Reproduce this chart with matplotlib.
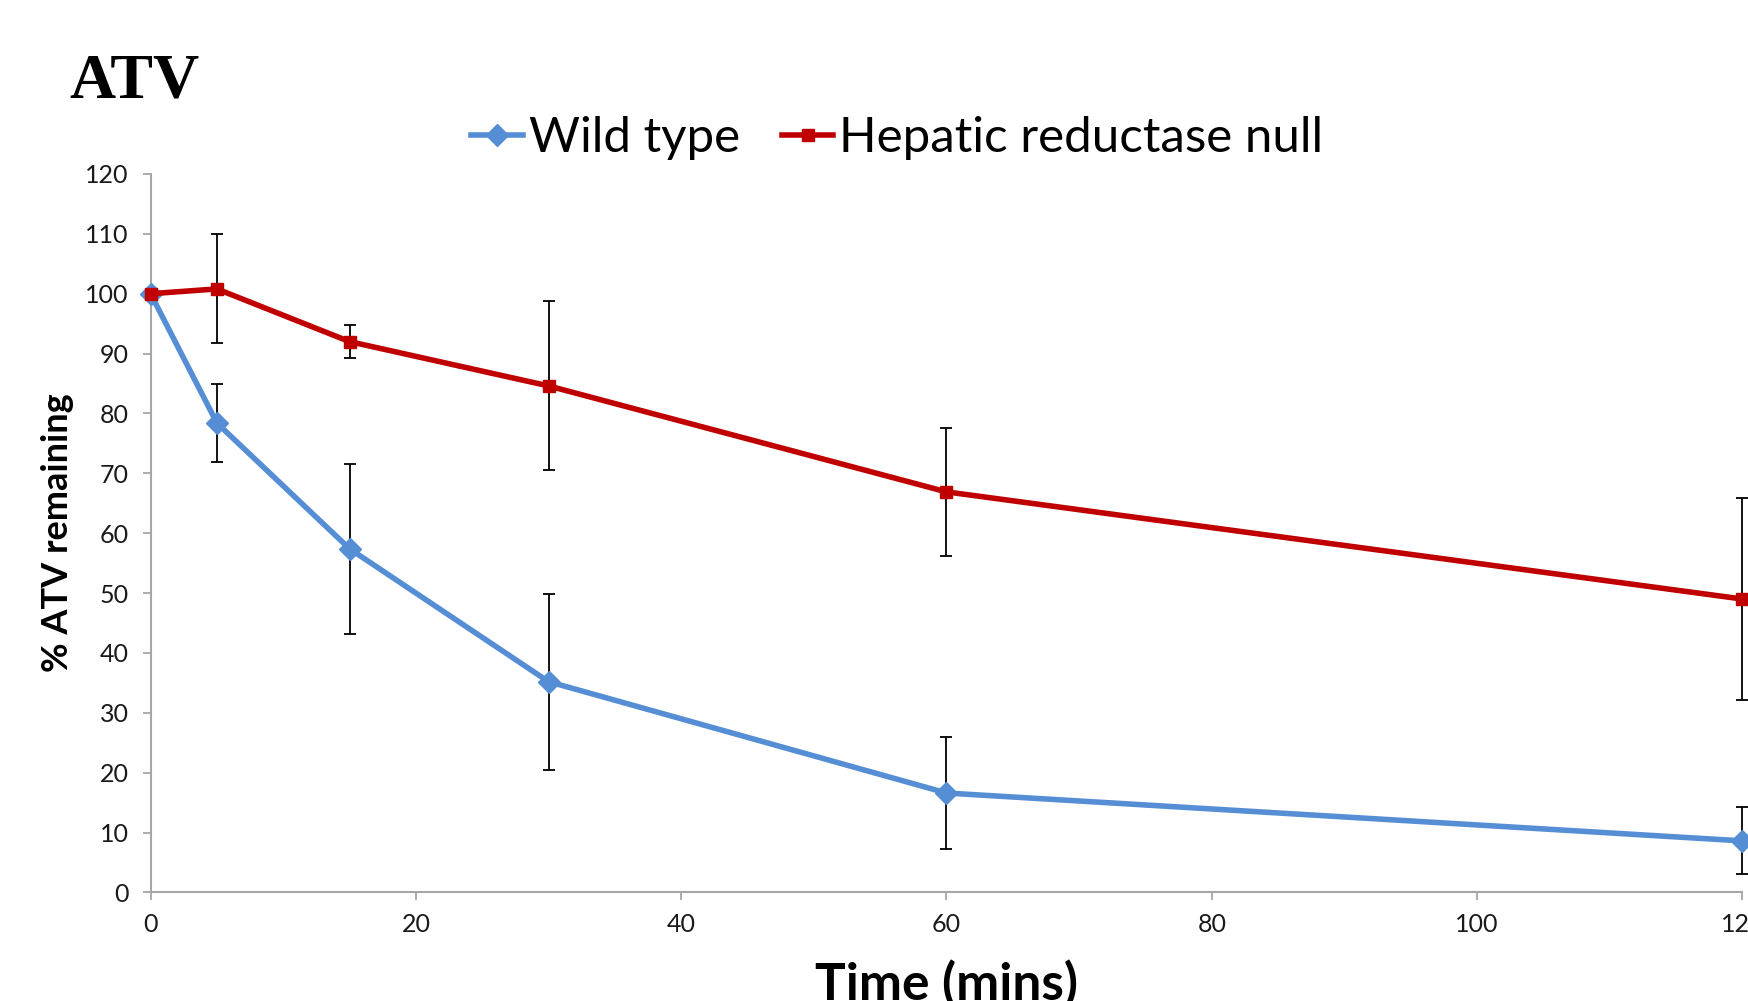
import matplotlib.pyplot as plt

# time points (mins)
time_points = [0, 5, 15, 30, 60, 120]

# % ATV remaining, mean and error
wild_type = [100, 78.4, 57.4, 35.2, 16.6, 8.6]
wild_type_err = [0, 6.5, 14.2, 14.7, 9.3, 5.6]
reductase_null = [100, 100.8, 92.0, 84.6, 66.9, 49.0]
reductase_null_err = [0, 9.1, 2.7, 14.1, 10.7, 16.8]

x_ticks = [0, 20, 40, 60, 80, 100, 120]
y_ticks = list(range(0, 121, 10))

BLUE = "#558ED5"
RED = "#C00000"
GRAY = "#A6A6A6"


def draw_series(ax, y, err, color, marker, msize, label):
    ax.errorbar(time_points, y, yerr=err, fmt="none", ecolor="black",
                elinewidth=1.3, capsize=4.3, capthick=1.3, zorder=2, clip_on=False)
    ax.plot(time_points, y, color=color, lw=4, marker=marker, markersize=msize,
            label=label, zorder=3, clip_on=False)


def create_plot():
    fig = plt.figure(figsize=(17.49, 10.01), dpi=100)
    ax = fig.add_axes([0.0861, 0.1085, 0.9101, 0.7177])

    draw_series(ax, wild_type, wild_type_err, BLUE, "D", 11, "Wild type")
    draw_series(ax, reductase_null, reductase_null_err, RED, "s", 9, "Hepatic reductase null")

    ax.set_xlim(0, 120)
    ax.set_ylim(0, 120)
    ax.set_xticks(x_ticks)
    ax.set_yticks(y_ticks)

    for side in ("top", "right"):
        ax.spines[side].set_visible(False)
    for side in ("left", "bottom"):
        ax.spines[side].set_color(GRAY)
        ax.spines[side].set_linewidth(1.5)

    ax.tick_params(axis="both", direction="out", length=5.8, width=1.3, color=GRAY,
                   labelsize=18, labelcolor="#1a1a1a")
    ax.tick_params(axis="y", pad=10)
    ax.tick_params(axis="x", pad=9)
    for lbl in ax.get_xticklabels() + ax.get_yticklabels():
        lbl.set_family("Lato")

    ax.set_ylabel("% ATV remaining", family="Lato", fontweight="bold", fontsize=26,
                  labelpad=8)
    ax.set_xlabel("Time (mins)", family="Lato", fontweight="bold", fontsize=37,
                  labelpad=17)

    fig.text(0.0395, 0.947, "ATV", family="Liberation Serif", fontweight="bold",
             fontsize=46, va="top", ha="left")

    fig.legend(loc="center", bbox_to_anchor=(0.513, 0.862), ncol=2, frameon=False,
               prop={"family": "Lato", "size": 35.5}, handlelength=1.05,
               handletextpad=0.12, columnspacing=0.85)

    fig.savefig("out.png", dpi=100)
    plt.close(fig)


if __name__ == "__main__":
    create_plot()
